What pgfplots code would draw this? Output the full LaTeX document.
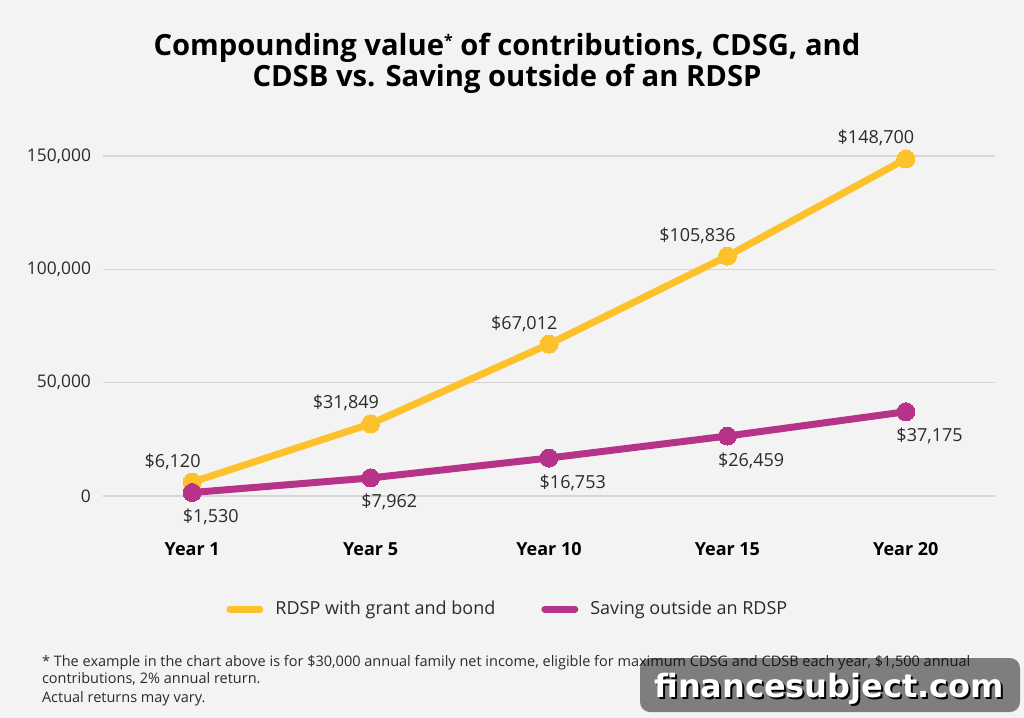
\documentclass[border=0pt]{standalone}
\usepackage{fontspec}
\setmainfont{Open Sans}
\newfontfamily\wmfont{DejaVu Sans}
\usepackage{pgfplots}
\pgfplotsset{compat=1.18}
\definecolor{bg}{HTML}{F3F3F3}
\definecolor{ylw}{HTML}{FDC12C}
\definecolor{mag}{HTML}{B7338A}
\definecolor{grd}{HTML}{D6D6D6}
\definecolor{txt}{HTML}{2B2B2B}
\begin{document}
\begin{tikzpicture}
\fill[bg] (0,0) rectangle (512pt,-359pt);
\node[anchor=base, font=\bfseries\fontsize{14.6}{16}\selectfont] at (253.5pt,-27.5pt) {Compounding value{\fontsize{8}{8}\selectfont\raisebox{4.5pt}{*}} of contributions, CDSG, and};
\node[anchor=base, font=\bfseries\fontsize{14.6}{16}\selectfont] at (253.5pt,-43.3pt) {CDSB vs. Saving outside of an RDSP};
\begin{axis}[
  at={(51.5pt,-248pt)}, anchor=south west,
  width=446pt, height=170pt, scale only axis,
  xmin=-0.5, xmax=4.5, ymin=0, ymax=150000,
  axis line style={draw=none}, major tick length=0pt,
  ytick={0,50000,100000,150000},
  scaled y ticks=false,
  yticklabels={0,{50,000},{100,000},{150,000}},
  yticklabel style={font=\fontsize{8.7}{11}\selectfont, text=txt, xshift=-2.5pt},
  ymajorgrids, grid style={grd, line width=0.8pt},
  xtick={0,1,2,3,4},
  xticklabels={Year 1,Year 5,Year 10,Year 15,Year 20},
  xticklabel style={font=\bfseries\fontsize{9}{11}\selectfont, anchor=base, yshift=-29.5pt},
  clip=false,
  point meta=explicit symbolic,
  legend style={at={(0.455,-0.333)}, anchor=center, draw=none, fill=none,
    font=\fontsize{9}{11}\selectfont, text=txt, legend columns=2,
    /tikz/every even column/.append style={column sep=21pt}},
  legend image code/.code={\draw[#1, line width=3.5pt, line cap=round] (0pt,0pt) -- (15pt,0pt); \path (19pt,0pt);},
]
\addplot[ylw, line width=3.5pt, mark=*, mark size=4.5pt, mark options={solid, fill=ylw, line width=0pt},
  nodes near coords={\pgfplotspointmeta}, nodes near coords style={anchor=base east, xshift=7.5pt, yshift=7.5pt, font=\fontsize{9}{11}\selectfont, text=txt}]
coordinates {(0,6120) [\$6,120] (1,31849) [\$31,849] (2,67012) [\$67,012] (3,105836) [\$105,836] (4,148700) [\$148,700]};
\addlegendentry{RDSP with grant and bond}
\addplot[mag, line width=3.5pt, mark=*, mark size=4.5pt, mark options={solid, fill=mag, line width=0pt},
  nodes near coords={\pgfplotspointmeta}, nodes near coords style={anchor=base west, xshift=-8pt, yshift=-15pt, font=\fontsize{9}{11}\selectfont, text=txt}]
coordinates {(0,1530) [\$1,530] (1,7962) [\$7,962] (2,16753) [\$16,753] (3,26459) [\$26,459] (4,37175) [\$37,175]};
\addlegendentry{Saving outside an RDSP}
\end{axis}
\node[anchor=base west, font=\fontsize{7.25}{8}\selectfont, text=txt] at (17.5pt,-333pt) {* The example in the chart above is for \$30,000 annual family net income, eligible for maximum CDSG and CDSB each year, \$1,500 annual};
\node[anchor=base west, font=\fontsize{7.25}{8}\selectfont, text=txt] at (17.5pt,-341.5pt) {contributions, 2\% annual return.};
\node[anchor=base west, font=\fontsize{7.25}{8}\selectfont, text=txt] at (17.5pt,-351pt) {Actual returns may vary.};
\fill[black, fill opacity=0.48, rounded corners=5pt] (320pt,-329pt) rectangle (510pt,-356pt);
\node[anchor=base, font=\wmfont\bfseries\fontsize{16}{18}\selectfont, text=black] at (415.6pt,-349.6pt) {financesubject.com};
\node[anchor=base, font=\wmfont\bfseries\fontsize{16}{18}\selectfont, text=white] at (414.6pt,-348.8pt) {financesubject.com};
\end{tikzpicture}
\end{document}
